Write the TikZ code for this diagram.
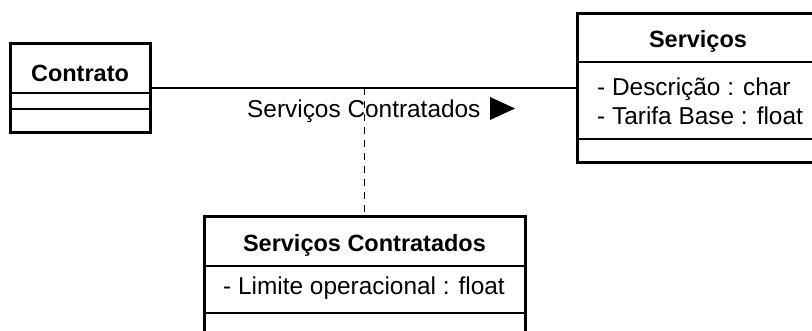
\documentclass[tikz,border=0pt]{standalone}
\usepackage{fontspec}
\setmainfont{Liberation Sans}
\begin{document}
\begin{tikzpicture}[x=1pt,y=-1pt,
    classbox/.style={draw,line width=3pt,inner sep=0pt},
    classname/.style={font=\fontsize{23.5}{28}\selectfont\bfseries,inner sep=0pt,anchor=base},
    attr/.style={font=\fontsize{24.4}{29}\selectfont,inner sep=0pt,anchor=base west},
    divider/.style={line width=1.5pt}]
  \clip (0,0) rectangle (812,331);

  %% class boxes
  \node[classbox,minimum width=140,minimum height=89] (contrato) at (80,88.5) {};
  \node[classbox,minimum width=242,minimum height=149] (servicos) at (698,88.5) {};
  \node[classbox,minimum width=321,minimum height=128] (contratados) at (364.5,281) {};

  %% compartments
  \draw[divider] (contrato.west |- 0,93) -- (contrato.east |- 0,93);
  \draw[divider] (contrato.west |- 0,109) -- (contrato.east |- 0,109);
  \draw[divider] (servicos.west |- 0,62) -- (servicos.east |- 0,62);
  \draw[divider] (servicos.west |- 0,139) -- (servicos.east |- 0,139);
  \draw[divider] (contratados.west |- 0,266) -- (contratados.east |- 0,266);
  \draw[divider] (contratados.west |- 0,313) -- (contratados.east |- 0,313);

  %% names
  \node[classname] (contratoname) at (80,82) {Contrato};
  \node[classname] (servicosname) at (698,48) {Serviços};
  \node[classname] (contratadosname) at (364.5,252) {Serviços Contratados};

  %% attributes
  \node[attr] (descricao) at (597,96) {- Descrição : char};
  \node[attr] (tarifa) at (597,125) {- Tarifa Base : float};
  \node[attr] (limite) at (223,295) {- Limite operacional : float};

  %% association
  \draw[line width=2pt] (contrato.east) -- (contrato.east -| servicos.west);
  \draw[line width=1.5pt,dash pattern=on 7pt off 6pt]
    (contratados.north |- contrato.east) -- (contratados.north);
  \node[attr] (assoclabel) at (247,118) {Serviços Contratados};
  \fill (490,97) -- (490,120) -- (515,108.5) -- cycle;
\end{tikzpicture}
\end{document}
